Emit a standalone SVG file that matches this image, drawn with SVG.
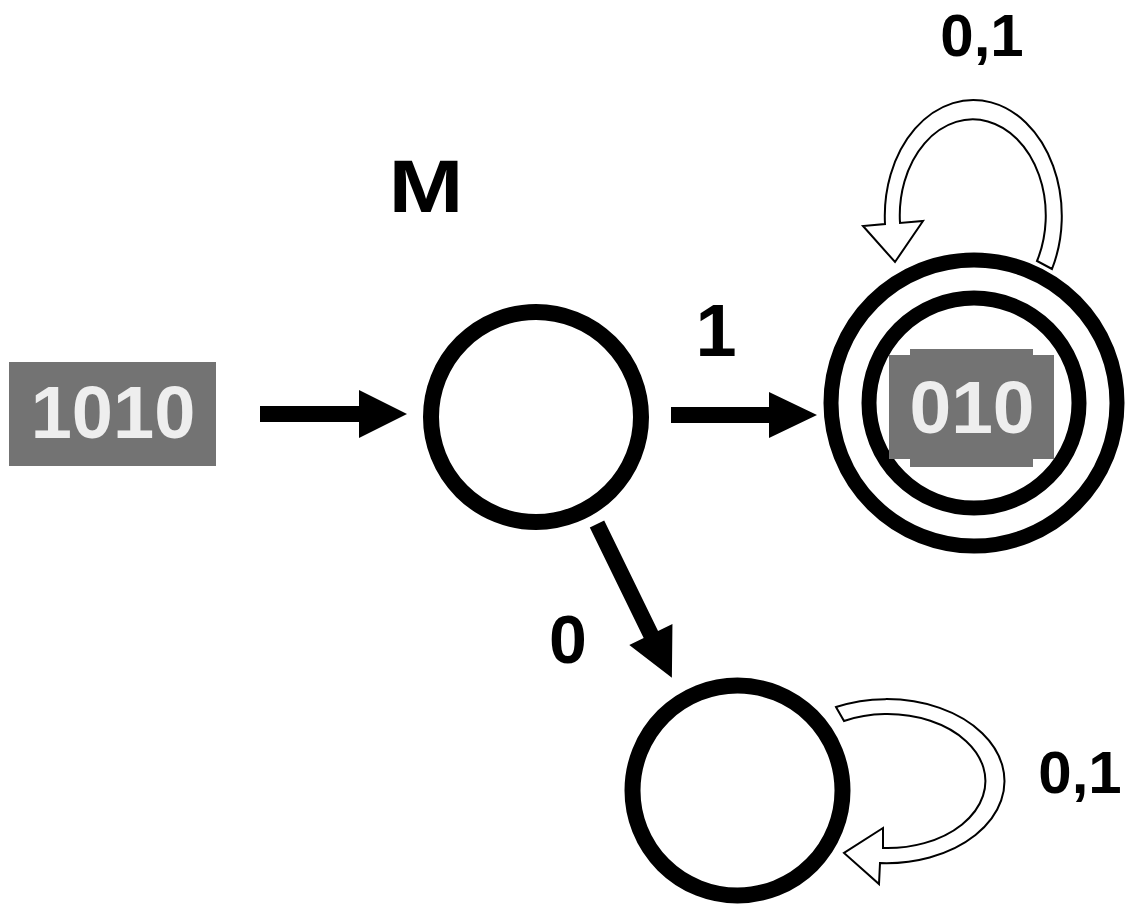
<svg xmlns="http://www.w3.org/2000/svg" width="1125" height="904" viewBox="0 0 1125 904">
  <style>
    .state { fill: #ffffff; stroke: #000000; stroke-width: 16; }
    .ring { fill: none; stroke: #000000; stroke-width: 15; }
    .edge { fill: #000000; stroke: none; }
    .loop { fill: #ffffff; stroke: #000000; stroke-width: 2; stroke-linejoin: miter; }
    .lbl { font-family: "Liberation Sans", Arial, sans-serif; font-weight: bold; fill: #000000; }
    .tape { fill: #737373; }
    .tapetxt { font-family: "Liberation Sans", Arial, sans-serif; font-weight: bold; fill: #eeeeee; text-anchor: middle; }
  </style>
  <defs>
    <!-- block arrow, unit length set per use via shaft polygon -->
    <path id="head" d="M-48,-24 L0,0 L-48,24 Z"/>
  </defs>
  <rect width="1125" height="904" fill="#ffffff"/>

  <!-- machine label -->
  <g id="label-M">
    <text class="lbl" font-size="75" text-anchor="middle" transform="translate(426,212) scale(1.2,1)">M</text>
  </g>

  <!-- input tape -->
  <g id="input">
    <rect class="tape" x="9" y="362" width="207" height="104"/>
    <text class="tapetxt" x="113" y="438" font-size="74">1010</text>
  </g>

  <!-- states -->
  <g id="q0">
    <circle class="state" cx="536" cy="417" r="105"/>
  </g>
  <g id="q-accept">
    <circle class="ring" cx="974" cy="403" r="143"/>
    <circle class="ring" cx="974" cy="403" r="105"/>
    <rect class="tape" x="889" y="355" width="165" height="104"/>
    <rect class="tape" x="910" y="349" width="123" height="118"/>
    <text class="tapetxt" x="972" y="433" font-size="75">010</text>
  </g>
  <g id="q-reject">
    <circle class="state" cx="737.5" cy="790.5" r="105"/>
  </g>

  <!-- transitions -->
  <g id="connectors">
    <g transform="translate(260,414)">
      <path class="edge" d="M0,-8 L99,-8 L99,-24 L147,0 L99,24 L99,8 L0,8 Z"/>
    </g>
    <g transform="translate(671,415)">
      <path class="edge" d="M0,-8 L98,-8 L98,-23 L146,0 L98,23 L98,8 L0,8 Z"/>
    </g>
    <g transform="translate(597,524) rotate(64.03)">
      <path class="edge" d="M0,-8 L123,-8 L123,-24 L171,0 L123,24 L123,8 L0,8 Z"/>
    </g>
    <path class="loop" d="M1052,269 A88.5,116 0 1 0 885,224 L863,226 L895,262 L923,221 L900,223 A73,96 0 1 1 1037,261 Z"/>
    <path class="loop" d="M836,707 A118,82 0 1 1 880,863 L879,884 L844,853 L883,828 L883,848 A98,67 0 1 0 844,721 Z"/>
  </g>

  <!-- transition labels -->
  <g id="edge-labels">
    <text class="lbl" x="716" y="356" font-size="74" text-anchor="middle">1</text>
    <text class="lbl" x="568" y="663" font-size="68" text-anchor="middle">0</text>
    <text class="lbl" x="982" y="56" font-size="60" text-anchor="middle">0,1</text>
    <text class="lbl" x="1080" y="793" font-size="60" text-anchor="middle">0,1</text>
  </g>
</svg>
